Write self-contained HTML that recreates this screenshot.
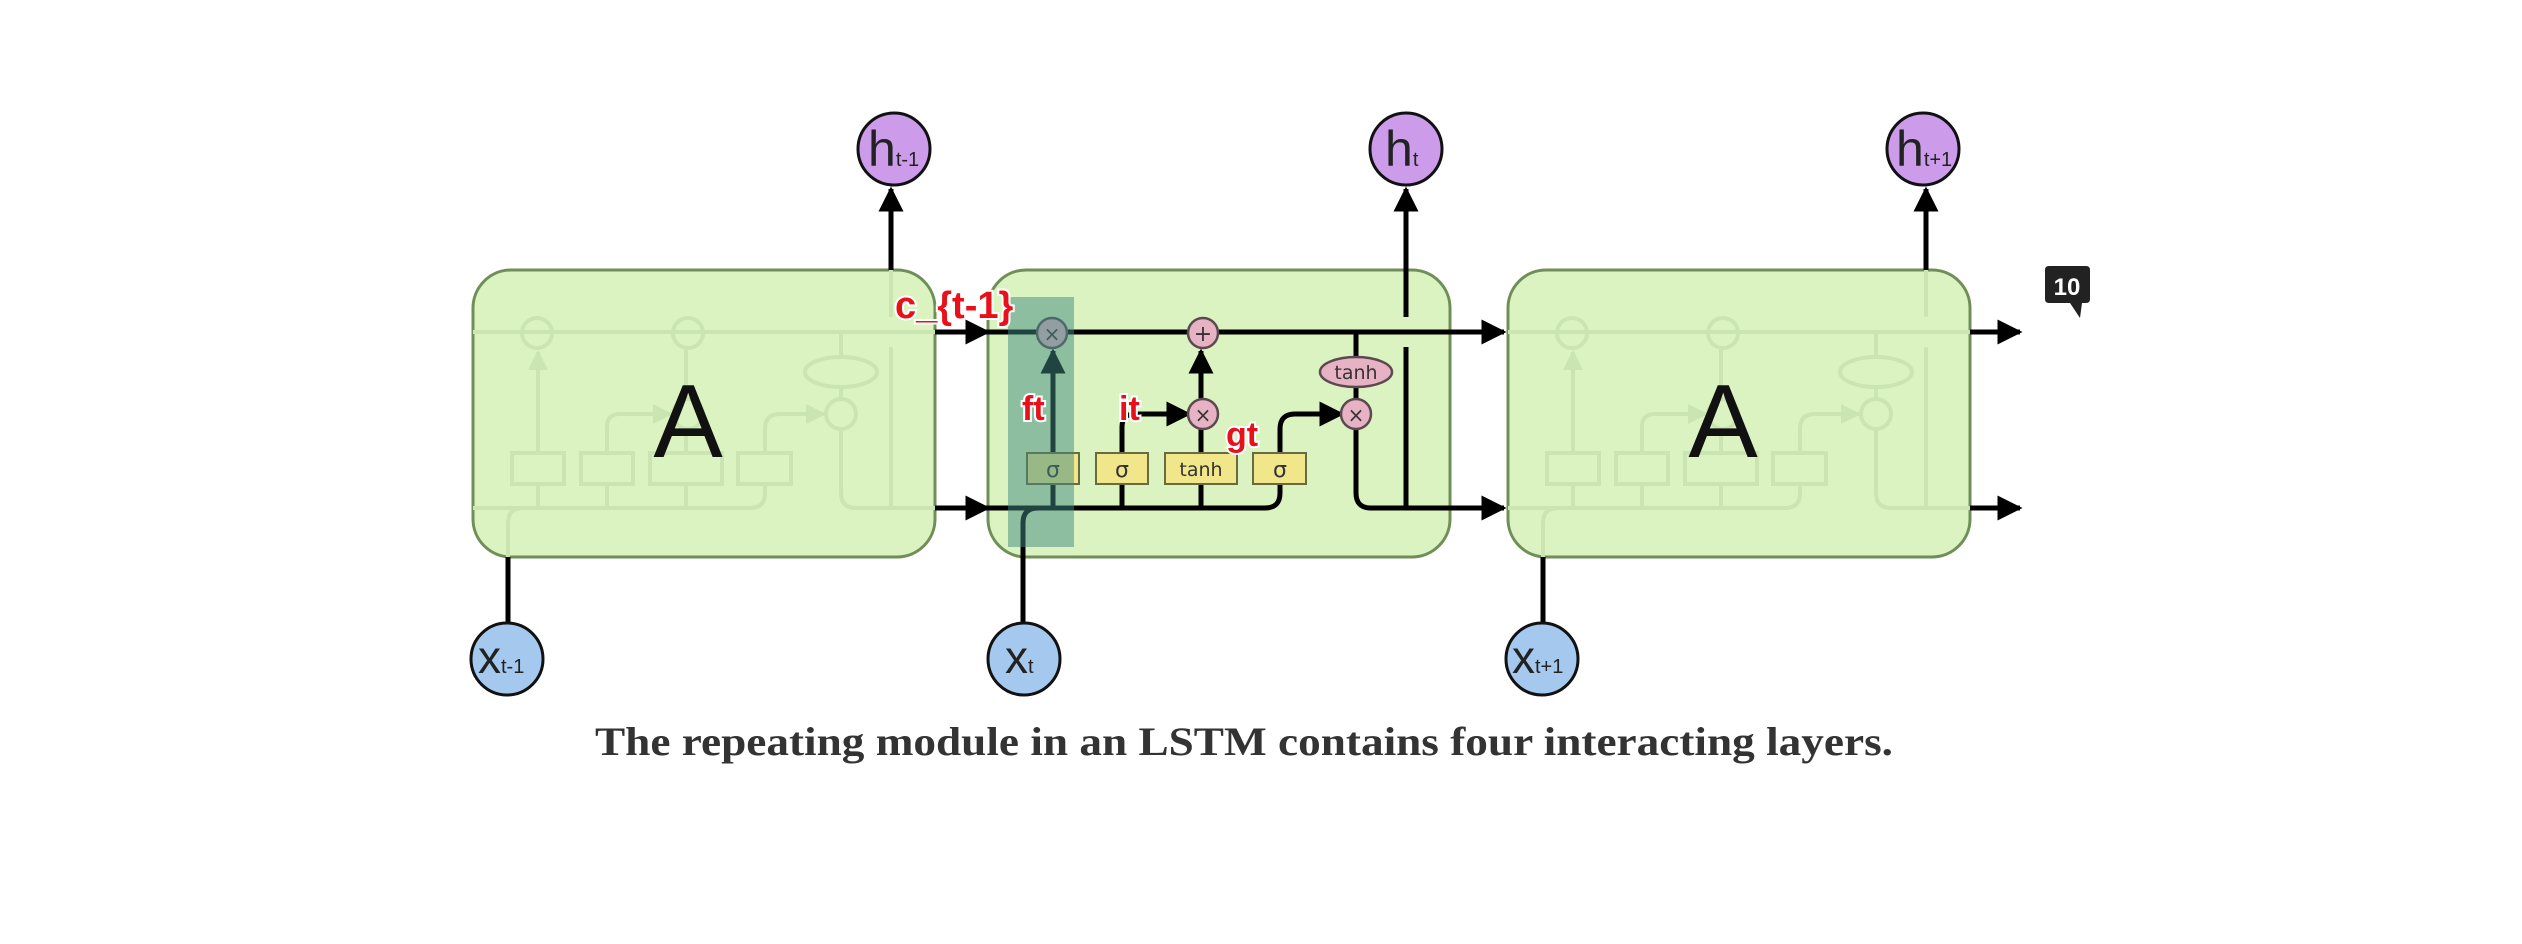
<!DOCTYPE html>
<html><head><meta charset="utf-8"><style>
html,body{margin:0;padding:0;background:#fff;}
svg{display:block}
</style></head><body>
<svg width="2522" height="944" viewBox="0 0 2522 944" xmlns="http://www.w3.org/2000/svg">
<defs>
<marker id="ah" viewBox="0 0 10 10" refX="9" refY="5" markerWidth="5" markerHeight="5" orient="auto" markerUnits="strokeWidth">
<path d="M0,0 L10,5 L0,10 z" fill="#000"/></marker>
<marker id="fh" viewBox="0 0 10 10" refX="9" refY="5" markerWidth="5" markerHeight="5" orient="auto" markerUnits="strokeWidth">
<path d="M0,0 L10,5 L0,10 z" fill="#cbe5b2"/></marker>
<g id="faded" fill="none" stroke="#cbe5b2" stroke-width="4">
<path d="M988,332 H1450"/>
<path d="M988,508 H1265 q15,0 15,-15 V484"/>
<path d="M1023,560 V523 q0,-15 15,-15"/>
<path d="M1053,508 V484 M1053,453 V352" marker-end="url(#fh)"/>
<path d="M1122,508 V484 M1201,508 V484"/>
<path d="M1122,453 V427 q0,-13 13,-13 H1186" marker-end="url(#fh)"/>
<path d="M1201,453 V429 M1201,399 V350"/>
<path d="M1280,453 V429 q0,-15 15,-15 H1339" marker-end="url(#fh)"/>
<path d="M1356,332 V357 M1356,387 V399 M1356,429 V493 q0,15 15,15 H1450"/>
<path d="M1406,508 V347 M1406,317 V270"/>
<circle cx="1052" cy="333" r="15"/><circle cx="1203" cy="333" r="15"/>
<circle cx="1203" cy="414" r="15"/><circle cx="1356" cy="414" r="15"/>
<ellipse cx="1356" cy="372" rx="36" ry="15"/>
<rect x="1027" y="453" width="52" height="31"/><rect x="1096" y="453" width="52" height="31"/>
<rect x="1165" y="453" width="72" height="31"/><rect x="1253" y="453" width="53" height="31"/>
</g>
</defs>

<rect x="473" y="270" width="462" height="287" rx="38" fill="#daf3c1" stroke="#708f58" stroke-width="3"/>
<rect x="988" y="270" width="462" height="287" rx="38" fill="#daf3c1" stroke="#708f58" stroke-width="3"/>
<rect x="1508" y="270" width="462" height="287" rx="38" fill="#daf3c1" stroke="#708f58" stroke-width="3"/>

<use href="#faded" transform="translate(-515,0)"/>
<use href="#faded" transform="translate(520,0)"/>

<text x="688" y="457" font-family="Liberation Sans, sans-serif" font-size="104" fill="#111" text-anchor="middle">A</text>
<text x="1723" y="457" font-family="Liberation Sans, sans-serif" font-size="104" fill="#111" text-anchor="middle">A</text>

<g fill="none" stroke="#000" stroke-width="5">
<path d="M935,332 H988" marker-end="url(#ah)"/>
<path d="M935,508 H988" marker-end="url(#ah)"/>
<path d="M1450,332 H1504" marker-end="url(#ah)"/>
<path d="M1450,508 H1504" marker-end="url(#ah)"/>
<path d="M1970,332 H2020" marker-end="url(#ah)"/>
<path d="M1970,508 H2020" marker-end="url(#ah)"/>
<path d="M891,270 V189" marker-end="url(#ah)"/>
<path d="M1926,270 V189" marker-end="url(#ah)"/>
<path d="M508,557 V623"/>
<path d="M1543,557 V623"/>
</g>

<g fill="none" stroke="#000" stroke-width="5">
<path d="M988,332 H1450"/>
<path d="M988,508 H1265 q15,0 15,-15 V484"/>
<path d="M1023,623 V523 q0,-15 15,-15"/>
<path d="M1053,508 V484"/>
<path d="M1053,453 V351" marker-end="url(#ah)"/>
<path d="M1122,508 V484 M1201,508 V484"/>
<path d="M1122,453 V427 q0,-13 13,-13 H1189" marker-end="url(#ah)"/>
<path d="M1201,453 V429"/>
<path d="M1201,399 V351" marker-end="url(#ah)"/>
<path d="M1280,453 V429 q0,-15 15,-15 H1342" marker-end="url(#ah)"/>
<path d="M1356,332 V357 M1356,387 V399 M1356,429 V493 q0,15 15,15 H1450"/>
<path d="M1406,508 V347"/>
<path d="M1406,317 V189" marker-end="url(#ah)"/>
</g>
<g stroke="#5a4a50" stroke-width="2.5">
<circle cx="1052" cy="333" r="15" fill="#e6b2c4"/>
<circle cx="1203" cy="333" r="15" fill="#e6b2c4"/>
<circle cx="1203" cy="414" r="15" fill="#e6b2c4"/>
<circle cx="1356" cy="414" r="15" fill="#e6b2c4"/>
<ellipse cx="1356" cy="372" rx="36" ry="15" fill="#e6b2c4"/>
</g>
<g font-family="DejaVu Sans, sans-serif" fill="#333" text-anchor="middle">
<text x="1052" y="341" font-size="20">×</text>
<text x="1203" y="341" font-size="22">+</text>
<text x="1203" y="422" font-size="20">×</text>
<text x="1356" y="422" font-size="20">×</text>
<text x="1356" y="379" font-size="19">tanh</text>
</g>
<g stroke="#6a6a40" stroke-width="2" fill="#f1e68a">
<rect x="1027" y="453" width="52" height="31"/><rect x="1096" y="453" width="52" height="31"/>
<rect x="1165" y="453" width="72" height="31"/><rect x="1253" y="453" width="53" height="31"/>
</g>
<g font-family="DejaVu Sans, sans-serif" fill="#333" text-anchor="middle" font-size="22">
<text x="1053" y="477">σ</text><text x="1122" y="477">σ</text>
<text x="1201" y="476" font-size="19">tanh</text><text x="1280" y="477">σ</text>
</g>
<rect x="1008" y="297" width="66" height="250" fill="#3f8a80" opacity="0.5"/>

<g stroke="#111" stroke-width="3" fill="#cc9be9">
<circle cx="894" cy="149" r="36"/><circle cx="1406" cy="149" r="36"/><circle cx="1923" cy="149" r="36"/>
</g>
<g stroke="#111" stroke-width="3" fill="#a5c9ee">
<circle cx="507" cy="659" r="36"/><circle cx="1024" cy="659" r="36"/><circle cx="1542" cy="659" r="36"/>
</g>
<g font-family="Liberation Sans, sans-serif" fill="#222">
<text x="868" y="166" font-size="50">h<tspan font-size="20">t-1</tspan></text>
<text x="1385" y="166" font-size="50">h<tspan font-size="20">t</tspan></text>
<text x="1896" y="166" font-size="50">h<tspan font-size="20">t+1</tspan></text>
<text x="478" y="673" font-size="46">x<tspan font-size="20">t-1</tspan></text>
<text x="1005" y="673" font-size="46">x<tspan font-size="20">t</tspan></text>
<text x="1512" y="673" font-size="46">x<tspan font-size="20">t+1</tspan></text>
</g>

<g font-family="Liberation Sans, sans-serif" font-weight="bold" fill="#e8101a" stroke="#fff" stroke-width="4" paint-order="stroke">
<text x="895" y="318" font-size="38">c_{t-1}</text>
<text x="1022" y="420" font-size="34">ft</text>
<text x="1119" y="420" font-size="34">it</text>
<text x="1226" y="446" font-size="34">gt</text>
</g>

<path d="M2049,266 H2086 q4,0 4,4 V299 q0,4 -4,4 H2082 L2080,318 L2070,303 H2049 q-4,0 -4,-4 V270 q0,-4 4,-4z" fill="#222"/>
<text x="2067" y="295" font-family="Liberation Sans, sans-serif" font-weight="bold" font-size="24" fill="#fff" text-anchor="middle">10</text>

<text x="595" y="755" font-family="Liberation Serif, serif" font-weight="bold" font-size="40" fill="#333" textLength="1298" lengthAdjust="spacingAndGlyphs">The repeating module in an LSTM contains four interacting layers.</text>
</svg>
</body></html>
